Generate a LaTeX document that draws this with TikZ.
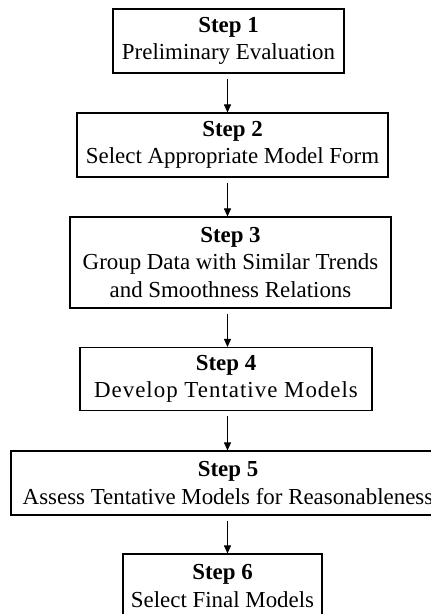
\documentclass[tikz,border=0pt]{standalone}
\usepackage{fontspec}
\setmainfont{Liberation Serif}
\usetikzlibrary{arrows.meta,calc}
\begin{document}
\begin{tikzpicture}[x=1pt,y=-1pt,
  stepbox/.style={draw=black,line width=1.1pt,inner sep=0pt,align=center,
    font=\fontsize{22.9}{27.5}\selectfont},
  conn/.style={line width=0.9pt,-{Triangle[length=8pt,width=7pt]}}]
\useasboundingbox (0,0) rectangle (431,614);
\clip (0,0) rectangle (431,614);
\node[stepbox,minimum width=231pt,minimum height=64pt] (b1) at (228.5,41)
  {\textbf{Step 1}\\Preliminary Evaluation};
\node[stepbox,minimum width=311pt,minimum height=64pt] (b2) at (232.5,145)
  {\textbf{Step 2}\\Select Appropriate Model Form};
\node[stepbox,minimum width=321pt,minimum height=91pt] (b3) at (230.5,262.5)
  {\textbf{Step 3}\\Group Data with Similar Trends\\and Smoothness Relations};
\node[stepbox,minimum width=292pt,minimum height=63pt] (b4) at (226,379)
  {\textbf{Step 4}\\\addfontfeature{LetterSpace=4.4}Develop Tentative Models};
\node[stepbox,minimum width=434pt,minimum height=64pt] (b5) at (228,483)
  {\textbf{Step 5}\\Assess Tentative Models for Reasonableness};
\node[stepbox,minimum width=199pt,minimum height=64pt] (b6) at (222.5,586)
  {\textbf{Step 6}\\Select Final Models};
\coordinate (ax) at (227.5,0);
\draw[conn] ($(b1.south -| ax)+(0,5)$) -- (b2.north -| ax);
\draw[conn] ($(b2.south -| ax)+(0,5)$) -- (b3.north -| ax);
\draw[conn] ($(b3.south -| ax)+(0,5)$) -- (b4.north -| ax);
\draw[conn] ($(b4.south -| ax)+(0,5)$) -- (b5.north -| ax);
\draw[conn] ($(b5.south -| ax)+(0,5)$) -- (b6.north -| ax);
\end{tikzpicture}
\end{document}
